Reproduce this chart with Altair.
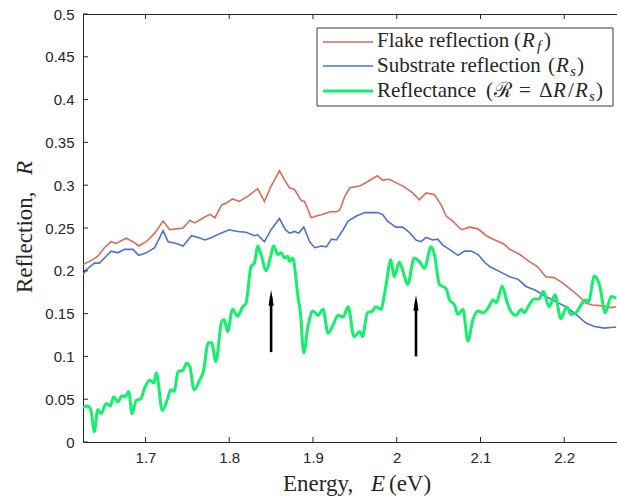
import altair as alt
import pandas as pd

# ---------------- data ----------------
flake_E = [1.625, 1.629, 1.637, 1.643, 1.651, 1.659, 1.665, 1.677, 1.685, 1.692, 1.701, 1.711, 1.721, 1.729,
           1.737, 1.745, 1.753, 1.759, 1.769, 1.777, 1.783, 1.791, 1.796, 1.804, 1.812, 1.822, 1.834, 1.842,
           1.850, 1.860, 1.866, 1.872, 1.878, 1.886, 1.890, 1.898, 1.904, 1.912, 1.920, 1.928, 1.932, 1.938,
           1.944, 1.956, 1.965, 1.977, 1.983, 1.991, 1.999, 2.009, 2.019, 2.027, 2.035, 2.045, 2.053, 2.059,
           2.067, 2.077, 2.087, 2.097, 2.107, 2.117, 2.127, 2.135, 2.147, 2.158, 2.168, 2.178, 2.188, 2.198,
           2.208, 2.218, 2.226, 2.234, 2.246, 2.256, 2.262]
flake_R = [0.207, 0.209, 0.213, 0.217, 0.227, 0.234, 0.232, 0.238, 0.234, 0.229, 0.234, 0.244, 0.258, 0.248,
           0.249, 0.250, 0.259, 0.256, 0.262, 0.266, 0.262, 0.277, 0.279, 0.284, 0.281, 0.287, 0.296, 0.281,
           0.299, 0.317, 0.306, 0.297, 0.295, 0.282, 0.281, 0.262, 0.264, 0.266, 0.269, 0.269, 0.271, 0.287,
           0.297, 0.299, 0.304, 0.311, 0.306, 0.307, 0.303, 0.298, 0.291, 0.283, 0.291, 0.289, 0.277, 0.264,
           0.258, 0.248, 0.251, 0.249, 0.241, 0.236, 0.232, 0.225, 0.219, 0.211, 0.205, 0.193, 0.192, 0.186,
           0.178, 0.170, 0.162, 0.160, 0.159, 0.157, 0.158]

sub_E = [1.625, 1.629, 1.639, 1.645, 1.651, 1.659, 1.667, 1.675, 1.685, 1.692, 1.701, 1.711, 1.721, 1.727,
         1.737, 1.745, 1.755, 1.763, 1.771, 1.779, 1.790, 1.800, 1.810, 1.820, 1.830, 1.834, 1.842, 1.850,
         1.860, 1.867, 1.872, 1.878, 1.883, 1.889, 1.896, 1.902, 1.910, 1.916, 1.922, 1.928, 1.936, 1.942,
         1.952, 1.962, 1.977, 1.983, 1.989, 1.999, 2.007, 2.015, 2.023, 2.029, 2.035, 2.043, 2.049, 2.055,
         2.063, 2.073, 2.081, 2.089, 2.097, 2.105, 2.111, 2.123, 2.135, 2.145, 2.154, 2.166, 2.178, 2.190,
         2.202, 2.214, 2.226, 2.236, 2.248, 2.258, 2.262]
sub_R = [0.195, 0.201, 0.209, 0.209, 0.215, 0.223, 0.221, 0.225, 0.225, 0.218, 0.221, 0.227, 0.247, 0.234,
         0.232, 0.229, 0.241, 0.239, 0.236, 0.239, 0.244, 0.248, 0.246, 0.245, 0.241, 0.242, 0.234, 0.248,
         0.261, 0.248, 0.244, 0.246, 0.244, 0.251, 0.234, 0.227, 0.229, 0.228, 0.237, 0.236, 0.248, 0.258,
         0.264, 0.268, 0.268, 0.266, 0.258, 0.251, 0.251, 0.245, 0.236, 0.234, 0.239, 0.236, 0.237, 0.230,
         0.225, 0.218, 0.223, 0.223, 0.219, 0.210, 0.205, 0.199, 0.193, 0.190, 0.182, 0.177, 0.170, 0.164,
         0.158, 0.149, 0.139, 0.135, 0.133, 0.134, 0.134]

refl_E = [1.625, 1.631, 1.635, 1.639, 1.643, 1.647, 1.653, 1.658, 1.662, 1.667, 1.672, 1.676, 1.680, 1.684,
          1.689, 1.694, 1.699, 1.705, 1.710, 1.713, 1.720, 1.726, 1.730, 1.734, 1.739, 1.745, 1.749, 1.753,
          1.758, 1.765, 1.769, 1.775, 1.779, 1.784, 1.791, 1.794, 1.798, 1.804, 1.810, 1.816, 1.820, 1.826,
          1.830, 1.834, 1.838, 1.844, 1.849, 1.853, 1.858, 1.862, 1.866, 1.870, 1.872, 1.876, 1.878, 1.882,
          1.885, 1.889, 1.894, 1.900, 1.906, 1.912, 1.918, 1.924, 1.930, 1.936, 1.942, 1.949, 1.956, 1.959,
          1.965, 1.971, 1.975, 1.981, 1.987, 1.993, 1.997, 2.003, 2.007, 2.013, 2.021, 2.027, 2.033, 2.041,
          2.045, 2.051, 2.059, 2.063, 2.069, 2.073, 2.079, 2.085, 2.091, 2.097, 2.103, 2.110, 2.115, 2.119,
          2.126, 2.131, 2.135, 2.142, 2.149, 2.152, 2.158, 2.164, 2.170, 2.175, 2.182, 2.189, 2.196, 2.203,
          2.208, 2.214, 2.220, 2.225, 2.229, 2.236, 2.242, 2.249, 2.256, 2.262]
refl_R = [0.040, 0.042, 0.036, 0.012, 0.038, 0.033, 0.045, 0.042, 0.053, 0.047, 0.054, 0.053, 0.059, 0.033,
          0.049, 0.050, 0.063, 0.072, 0.069, 0.081, 0.037, 0.049, 0.061, 0.059, 0.082, 0.084, 0.092, 0.088,
          0.061, 0.073, 0.082, 0.116, 0.116, 0.094, 0.141, 0.143, 0.129, 0.155, 0.147, 0.158, 0.162, 0.205,
          0.209, 0.229, 0.219, 0.200, 0.215, 0.229, 0.219, 0.221, 0.215, 0.217, 0.211, 0.215, 0.205, 0.170,
          0.151, 0.104, 0.135, 0.153, 0.148, 0.155, 0.127, 0.137, 0.148, 0.146, 0.158, 0.123, 0.129, 0.123,
          0.151, 0.153, 0.158, 0.155, 0.182, 0.213, 0.193, 0.210, 0.201, 0.184, 0.215, 0.211, 0.203, 0.228,
          0.219, 0.184, 0.179, 0.166, 0.160, 0.149, 0.155, 0.118, 0.143, 0.153, 0.151, 0.158, 0.166, 0.163,
          0.182, 0.166, 0.155, 0.148, 0.155, 0.151, 0.160, 0.167, 0.167, 0.176, 0.158, 0.172, 0.144, 0.158,
          0.149, 0.151, 0.160, 0.166, 0.164, 0.194, 0.184, 0.151, 0.170, 0.168]

arrow_E = [1.850, 2.023]
arrow_tail = [0.105, 0.100]
arrow_head = [0.178, 0.172]

x_ticks = [1.7, 1.8, 1.9, 2.0, 2.1, 2.2]
y_ticks = [0, 0.05, 0.1, 0.15, 0.2, 0.25, 0.3, 0.35, 0.4, 0.45, 0.5]

# ---------------- styling ----------------
W, H = 534, 428
RED, BLUE, GREEN = "#D96C56", "#4D70D8", "#14F06C"
INK = "#262626"
SERIF = "Liberation Serif"
SANS = "Liberation Sans"

xscale = alt.Scale(domain=[1.6254, 2.263], nice=False, zero=False)
yscale = alt.Scale(domain=[0, 0.5], nice=False, zero=False)

flake = pd.DataFrame({"E": flake_E, "R": flake_R})
sub = pd.DataFrame({"E": sub_E, "R": sub_R})
refl = pd.DataFrame({"E": refl_E, "R": refl_R})
arrows = pd.DataFrame({"E": arrow_E, "tail": arrow_tail, "head": arrow_head})
xt = pd.DataFrame({"v": x_ticks})
yt = pd.DataFrame({"v": y_ticks})

x_axis = alt.Axis(values=x_ticks, format=".1~f", ticks=False, tickSize=0, domain=False, grid=False,
                  labelPadding=8, labelFont=SANS, labelFontSize=15, labelColor=INK, title=None)
y_axis = alt.Axis(values=y_ticks, format=".2~f", ticks=False, tickSize=0, domain=False, grid=False,
                  labelPadding=9, labelFont=SANS, labelFontSize=15, labelColor=INK, title=None)


def X(field):
    return alt.X(field, type="quantitative", scale=xscale, axis=x_axis, title=None)


def Y(field):
    return alt.Y(field, type="quantitative", scale=yscale, axis=y_axis, title=None)


def line(df, color, width, interp):
    return alt.Chart(df).mark_line(color=color, strokeWidth=width, interpolate=interp, clip=True).encode(
        x=X("E"), y=Y("R"))


red_line = line(flake, RED, 1.6, "linear")
blue_line = line(sub, BLUE, 1.6, "linear")
green_line = line(refl, GREEN, 3, "monotone")

# inward ticks (top, bottom, left)
tick_top = alt.Chart(xt).mark_rule(color=INK, strokeWidth=1).encode(
    x=X("v"), y=alt.value(0), y2=alt.value(5))
tick_bot = alt.Chart(xt).mark_rule(color=INK, strokeWidth=1).encode(
    x=X("v"), y=alt.value(H - 5), y2=alt.value(H))
tick_left = alt.Chart(yt).mark_rule(color=INK, strokeWidth=1).encode(
    y=Y("v"), x=alt.value(0), x2=alt.value(5))

# arrows
shaft = alt.Chart(arrows).mark_rule(color="black", strokeWidth=2.6, y2Offset=7).encode(
    x=X("E"), y=Y("tail"), y2="head:Q")
head = alt.Chart(arrows).mark_point(shape="M0,-1L0.32,1L-0.32,1Z", size=256, filled=True, color="black",
                                    opacity=1, yOffset=8).encode(
    x=X("E"), y=Y("head"))

one = pd.DataFrame({"a": [0]})


def txt(s, x, y, size=21, italic=False, angle=0, font=SERIF):
    kw = dict(text=s, align="left", baseline="alphabetic", font=font, fontSize=size, color=INK)
    if italic:
        kw["fontStyle"] = "italic"
    if angle:
        kw["angle"] = angle
    return alt.Chart(one).mark_text(**kw).encode(x=alt.value(x), y=alt.value(y))


# legend
box = alt.Chart(one).mark_rect(fill="white", stroke="#3a3a3a", strokeWidth=1).encode(
    x=alt.value(234), x2=alt.value(530), y=alt.value(14), y2=alt.value(92))
leg_lines = [
    alt.Chart(one).mark_rule(color=c, strokeWidth=w).encode(
        x=alt.value(240), x2=alt.value(290), y=alt.value(yy))
    for c, w, yy in [(RED, 1.6, 28), (BLUE, 1.6, 52), (GREEN, 3, 77)]
]
legend_text = [
    txt("Flake reflection", 294, 33), txt("(", 431, 33), txt("R", 439, 33, italic=True),
    txt("f", 454, 37, size=15, italic=True), txt(")", 461, 33),
    txt("Substrate reflection", 294, 57.5), txt("(", 465, 57.5), txt("R", 473, 57.5, italic=True),
    txt("s", 487, 61.5, size=15, italic=True), txt(")", 494, 57.5),
    txt("Reflectance", 294, 82.5), txt("(", 403, 82.5), txt("\u211B", 411, 82.5),
    txt("=", 436, 82.5), txt("\u0394", 456, 82.5), txt("R", 470, 82.5, italic=True),
    txt("/", 485, 82.5), txt("R", 492, 82.5, italic=True), txt("s", 506, 86.5, size=15, italic=True),
    txt(")", 513, 82.5),
]

# axis titles
titles = [
    txt("Energy,", 200, 477, size=23), txt("E", 288, 477, size=23, italic=True),
    txt("(eV)", 306, 477, size=23),
    txt("Reflection,", -51, 279, size=23, angle=270), txt("R", -51, 161, size=23, italic=True, angle=270),
]

chart = alt.layer(
    red_line, blue_line, green_line, tick_top, tick_bot, tick_left, shaft, head,
    box, *leg_lines, *legend_text, *titles
).properties(
    width=W, height=H,
    padding={"left": 83, "top": 14, "right": 0, "bottom": 60},
    autosize=alt.AutoSizeParams(type="none"),
    background="white",
).configure_view(stroke=INK, strokeWidth=1)

chart.save("out.html", embed_options={"renderer": "svg", "actions": False})
